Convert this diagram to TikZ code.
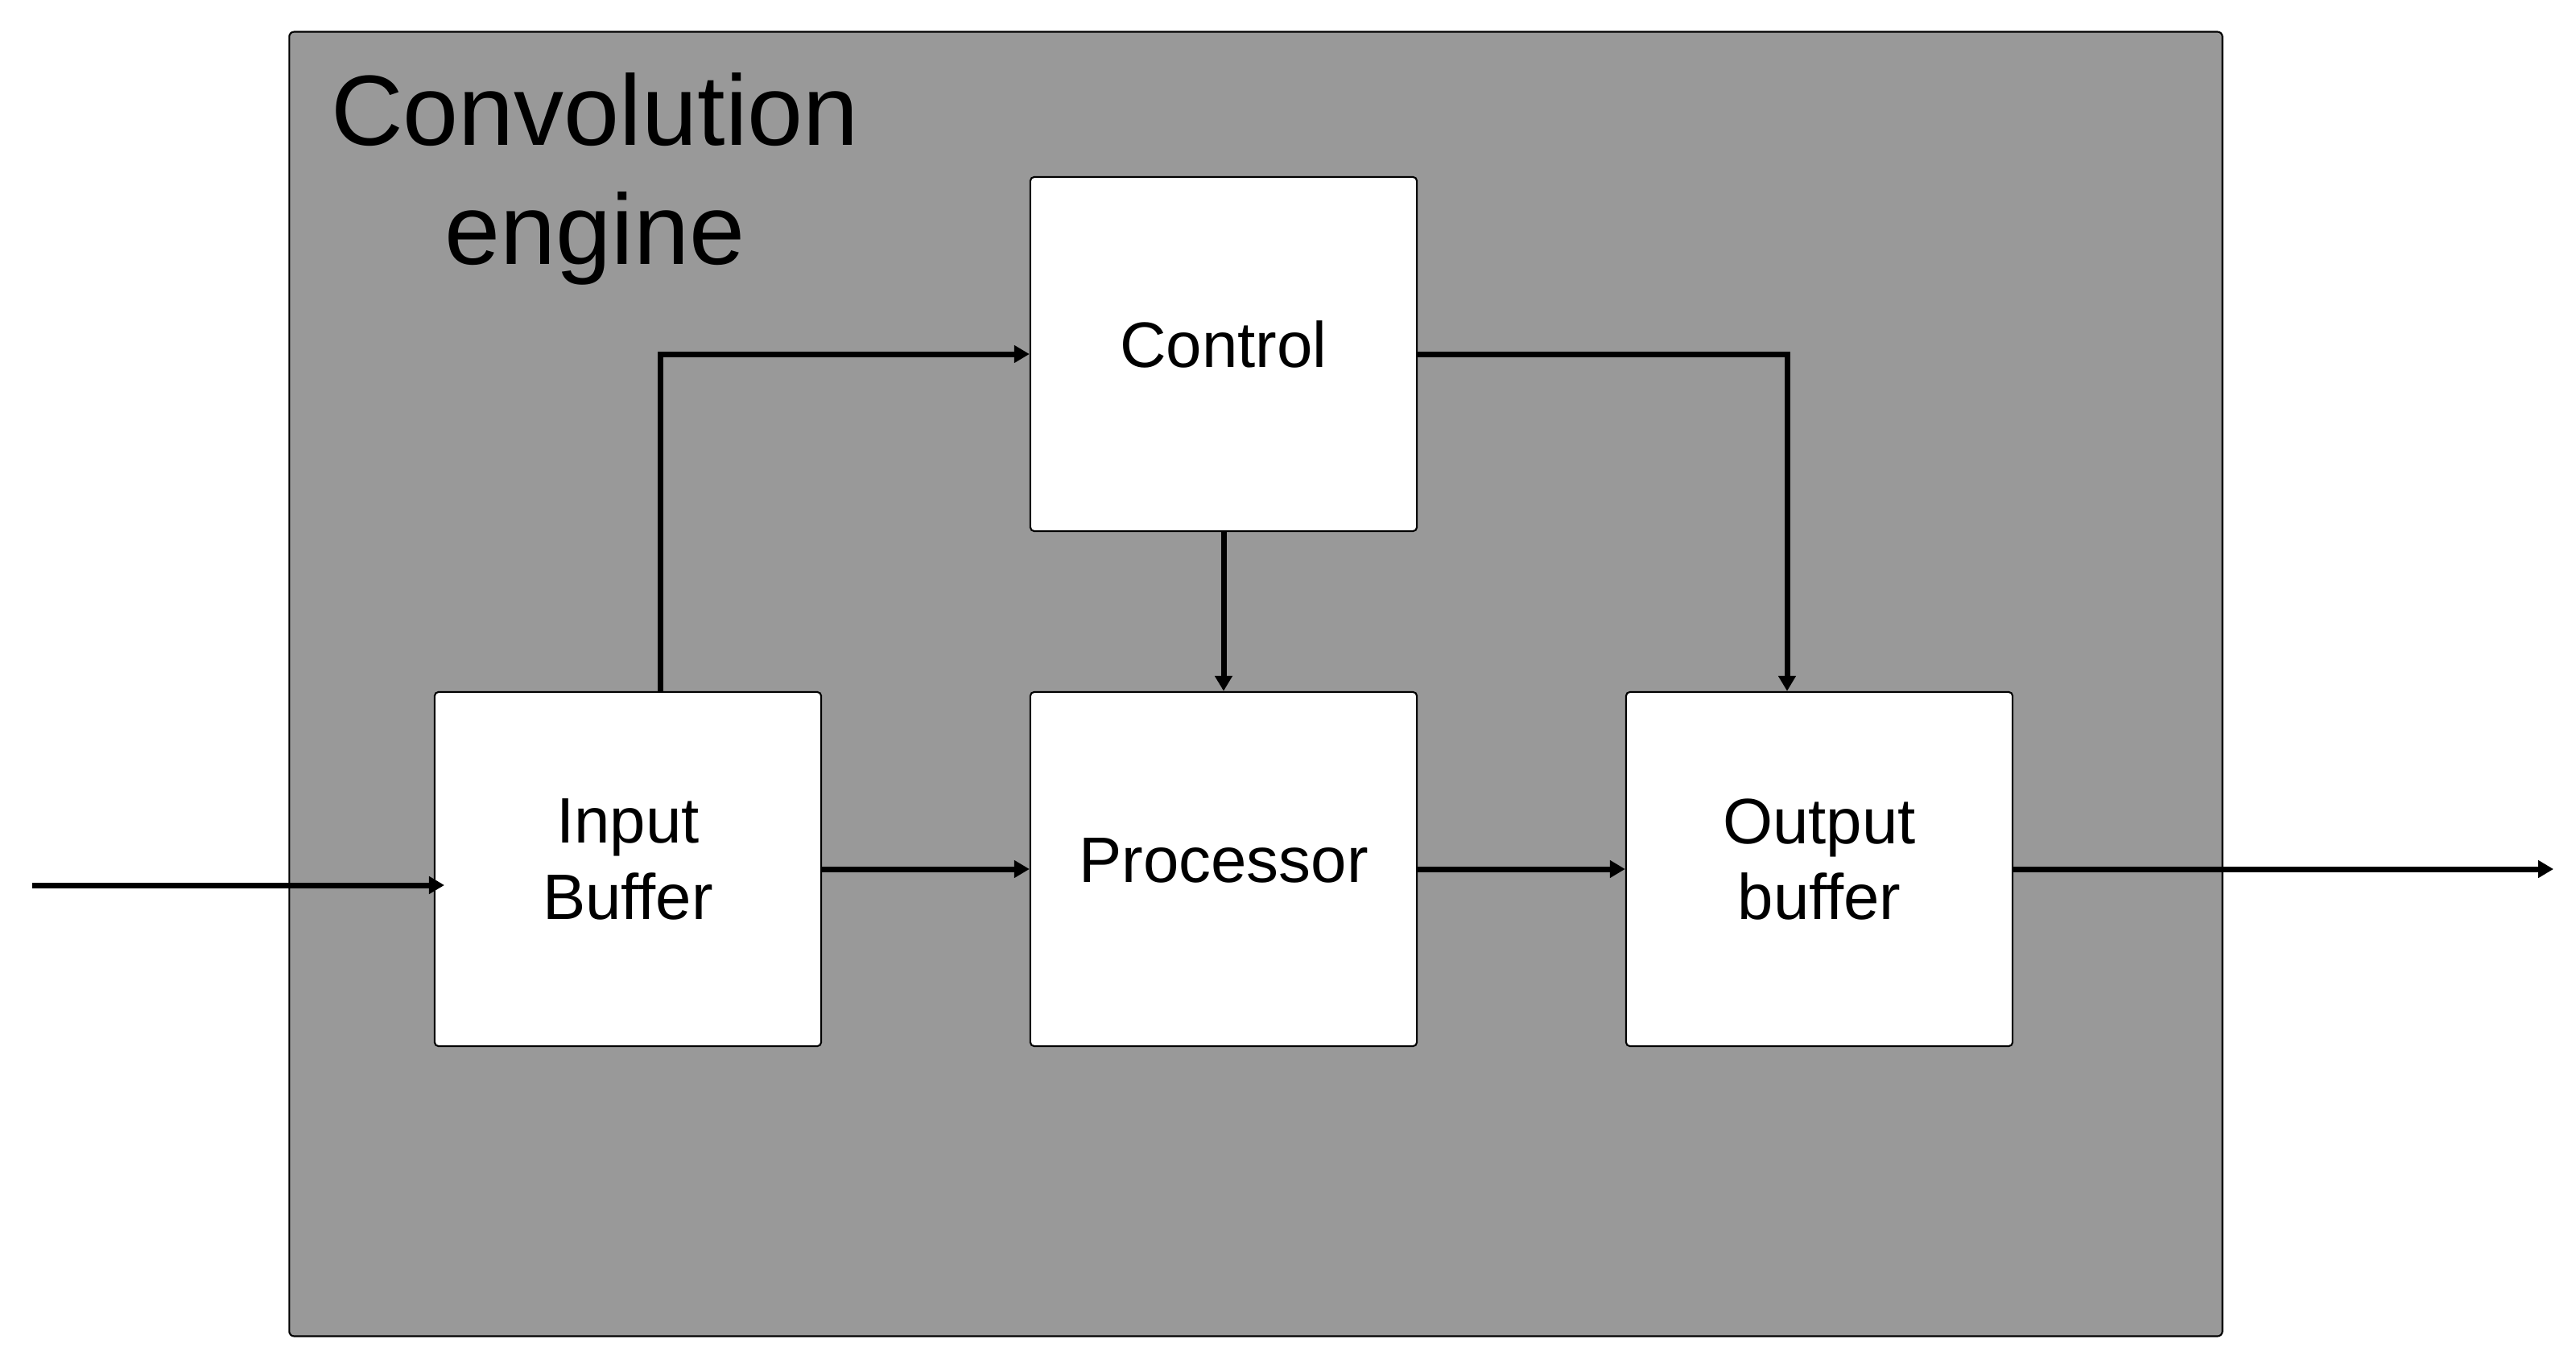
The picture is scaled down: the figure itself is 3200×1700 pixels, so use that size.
\documentclass[tikz,border=0pt]{standalone}
\usepackage{fontspec}
\setmainfont{Liberation Sans}
\usetikzlibrary{arrows.meta}
\definecolor{enginegray}{RGB}{153,153,153}
\begin{document}
\begin{tikzpicture}[x=0.01cm,y=-0.01cm,
  block/.style={draw=black,line width=0.6pt,fill=white,rounded corners=0.05cm,
    minimum width=4.8cm,minimum height=4.4cm,inner sep=0pt},
  blocklabel/.style={font=\fontsize{22.7}{27}\selectfont,align=center,inner sep=0pt},
  conn/.style={line width=0.07cm,-{Triangle[length=0.19cm,width=0.21cm]}},
]
\useasboundingbox (0,0) rectangle (3200,1700);
\node[draw=black,line width=0.6pt,fill=enginegray,rounded corners=0.06cm,
  minimum width=24cm,minimum height=16.2cm,inner sep=0pt] (engine) at (1560,850) {};
\node[font=\fontsize{35.3}{42.1}\selectfont,align=center,inner sep=0pt] (title) at (739,222) {Convolution\\engine};

\node[block,label={[blocklabel,yshift=0.12cm]center:Control}] (ctrl) at (1520,440) {};
\node[block,label={[blocklabel,yshift=0.12cm]center:Input\\Buffer}] (inbuf) at (780,1080) {};
\node[block,label={[blocklabel,yshift=0.11cm]center:Processor}] (proc) at (1520,1080) {};
\node[block,label={[blocklabel,yshift=0.12cm]center:Output\\buffer}] (outbuf) at (2260,1080) {};

\coordinate (inStart) at (40,1100);
\coordinate (inEnd) at (552,1100);
\coordinate (outEnd) at (3172,1080);

\draw[conn] (inStart) -- (inEnd);
\draw[conn] (inbuf.east) -- (proc.west);
\draw[conn] (proc.east) -- (outbuf.west);
\draw[conn] (outbuf.east) -- (outEnd);
\draw[conn] ([xshift=0.4cm]inbuf.north) |- (ctrl.west);
\draw[conn] (ctrl.south) -- (proc.north);
\draw[conn] (ctrl.east) -| ([xshift=-0.4cm]outbuf.north);
\end{tikzpicture}
\end{document}
